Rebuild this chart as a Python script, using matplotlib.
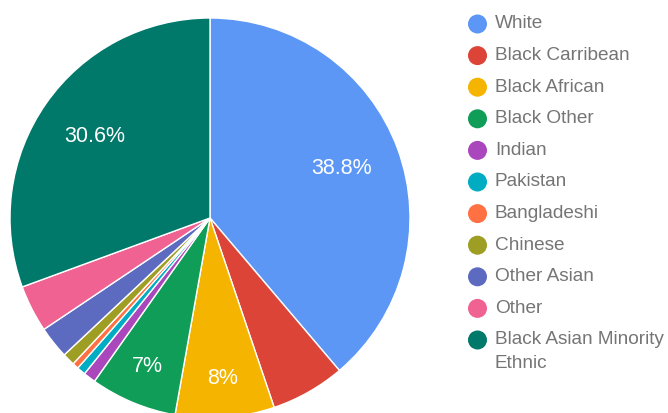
import numpy as np
import matplotlib.pyplot as plt
from matplotlib.patches import Circle

plt.rcParams["font.family"] = ["Liberation Sans", "DejaVu Sans"]

# ethnic breakdown, percent of total
categories = [
    "White",
    "Black Carribean",
    "Black African",
    "Black Other",
    "Indian",
    "Pakistan",
    "Bangladeshi",
    "Chinese",
    "Other Asian",
    "Other",
    "Black Asian Minority\nEthnic",
]
shares = [38.8, 6.0, 8.0, 7.0, 1.0, 0.7, 0.5, 1.0, 2.6, 3.8, 30.6]

colors = [
    "#5c97f6", "#db4437", "#f4b400", "#0f9d58", "#ab47bc", "#00acc1",
    "#ff7043", "#9e9d24", "#5c6bc0", "#f06292", "#00796b",
]

W, H = 668, 413
LABEL_MIN = 7.0  # smallest slice that gets a percentage label


def pct_text(v):
    s = f"{v:.1f}"
    if s.endswith(".0"):
        s = s[:-2]
    return s + "%"


def main():
    fig = plt.figure(figsize=(W / 100, H / 100), dpi=100)

    # pie: centre (210, 218) px, radius 200 px
    cx, cy, r = 210, 218, 200
    ax = fig.add_axes([(cx - r) / W, (H - cy - r) / H, 2 * r / W, 2 * r / H])
    wedges, _ = ax.pie(
        shares,
        colors=colors,
        startangle=90,
        counterclock=False,
        radius=1.0,
        wedgeprops=dict(edgecolor="white", linewidth=1.0),
    )
    ax.set_xlim(-1, 1)
    ax.set_ylim(-1, 1)
    ax.set_aspect("equal")
    ax.axis("off")

    for w, v in zip(wedges, shares):
        if v < LABEL_MIN:
            continue
        mid = np.deg2rad((w.theta1 + w.theta2) / 2)
        dist = 0.7 if v > 20 else 0.81
        ax.text(dist * np.cos(mid), dist * np.sin(mid) + 0.005, pct_text(v),
                ha="center", va="center", color="white", fontsize=15.5)

    # legend drawn in pixel space
    lg = fig.add_axes([0, 0, 1, 1])
    lg.set_xlim(0, W)
    lg.set_ylim(H, 0)
    lg.axis("off")
    y0, step, line_gap = 24, 31.6, 23.5
    for i, (name, c) in enumerate(zip(categories, colors)):
        y = y0 + i * step
        lg.add_patch(Circle((477.5, y), 9.5, color=c, lw=0))
        for j, line in enumerate(name.split("\n")):
            lg.text(495, y + j * line_gap, line, ha="left", va="center",
                    color="#757575", fontsize=13.7)

    fig.savefig("out.png", dpi=100)
    plt.close(fig)


if __name__ == "__main__":
    main()
